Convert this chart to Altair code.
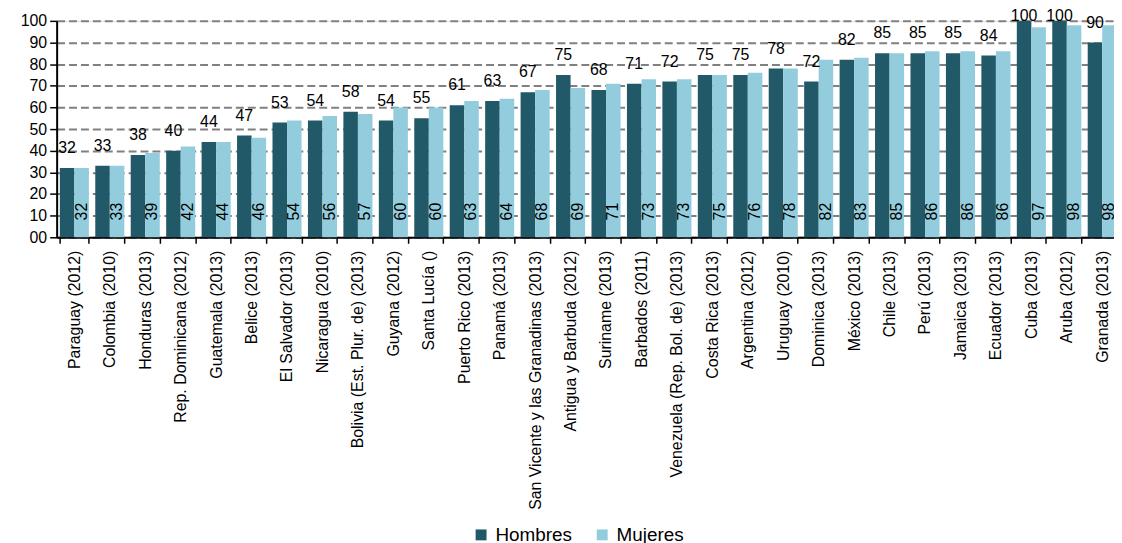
import altair as alt
import pandas as pd

FONT = "Liberation Sans"

countries = [
    "Paraguay (2012)", "Colombia (2010)", "Honduras (2013)", "Rep. Dominicana (2012)",
    "Guatemala (2013)", "Belice (2013)", "El Salvador (2013)", "Nicaragua (2010)",
    "Bolivia (Est. Plur. de)  (2013)", "Guyana (2012)", "Santa Lucía ()", "Puerto Rico (2013)",
    "Panamá (2013)", "San Vicente y las Granadinas (2013)", "Antigua y Barbuda (2012)",
    "Suriname (2013)", "Barbados (2011)", "Venezuela  (Rep. Bol. de) (2013)", "Costa Rica (2013)",
    "Argentina (2012)", "Uruguay (2010)", "Dominica (2013)", "México (2013)", "Chile (2013)",
    "Perú (2013)", "Jamaica (2013)", "Ecuador (2013)", "Cuba (2013)", "Aruba (2012)",
    "Granada (2013)",
]
hombres = [32, 33, 38, 40, 44, 47, 53, 54, 58, 54, 55, 61, 63, 67, 75, 68, 71, 72, 75, 75,
           78, 72, 82, 85, 85, 85, 84, 100, 100, 90]
mujeres = [32, 33, 39, 42, 44, 46, 54, 56, 57, 60, 60, 63, 64, 68, 69, 71, 73, 73, 75, 76,
           78, 82, 83, 85, 86, 86, 86, 97, 98, 98]
series = ["Hombres", "Mujeres"]
colors = ["#215968", "#93CDDD"]
y_ticks = [0, 10, 20, 30, 40, 50, 60, 70, 80, 90, 100]

rows = []
for c, h, m in zip(countries, hombres, mujeres):
    rows.append({"pais": c, "serie": series[0], "valor": h})
    rows.append({"pais": c, "serie": series[1], "valor": m})
df = pd.DataFrame(rows)

step = 35.7
xscale = alt.Scale(domain=countries, range=[0, step * len(countries)],
                   paddingInner=0.18, paddingOuter=0.09)
xoff = alt.XOffset("serie:N", scale=alt.Scale(domain=series, paddingInner=0, paddingOuter=0))

xaxis = alt.Axis(title=None, labelAngle=-90, labelFontSize=16, labelFont=FONT,
                 labelColor="black", labelPadding=7, labelLimit=400, tickBand="extent",
                 tickSize=6, tickColor="black", tickWidth=1.5, domainColor="black",
                 domainWidth=2)
yscale = alt.Scale(domain=[0, 100], nice=False)
yaxis = alt.Axis(title=None, values=y_ticks, tickCount=11,
                 labelExpr="datum.value == 0 ? '00' : datum.label",
                 labelFontSize=16, labelFont=FONT, labelColor="black", labelPadding=3,
                 labelOverlap=False,
                 tickSize=7, tickColor="black", tickWidth=1.5, domainColor="black",
                 domainWidth=2, grid=True, gridColor="#808080", gridDash=[8, 4],
                 gridWidth=2)

base = alt.Chart(df).encode(
    x=alt.X("pais:N", scale=xscale, axis=xaxis),
    xOffset=xoff,
)

bars = base.mark_bar().encode(
    y=alt.Y("valor:Q", scale=yscale, axis=yaxis),
    color=alt.Color("serie:N", scale=alt.Scale(domain=series, range=colors),
                    legend=alt.Legend(orient="none", legendX=418, legendY=508,
                                      direction="horizontal", title=None,
                                      symbolType="square", symbolSize=121,
                                      symbolStrokeWidth=0, labelFontSize=19,
                                      labelFont=FONT, labelColor="black",
                                      columnPadding=20, labelOffset=5, padding=0)),
)

lab_h = base.transform_filter("datum.serie == 'Hombres'").transform_calculate(
    ly="min(datum.valor, 93.2)"
).mark_text(dy=-15, baseline="alphabetic", fontSize=16, font=FONT, color="black").encode(
    y=alt.Y("ly:Q", scale=yscale, axis=yaxis),
    text=alt.Text("valor:Q"),
)

lab_m = base.transform_filter("datum.serie == 'Mujeres'").mark_text(
    angle=270, align="left", baseline="middle", dx=17, fontSize=16, font=FONT, color="black"
).encode(
    y=alt.YDatum(0, scale=yscale, axis=yaxis),
    text=alt.Text("valor:Q"),
)

chart = alt.layer(bars, lab_h, lab_m).properties(
    width=1065, height=218,
    autosize=alt.AutoSizeParams(type="none"),
    padding={"left": 49, "top": 11, "right": 0, "bottom": 312},
).configure_view(stroke=None).configure(background="white")

chart.save("out.html", embed_options={"renderer": "svg", "actions": False})
